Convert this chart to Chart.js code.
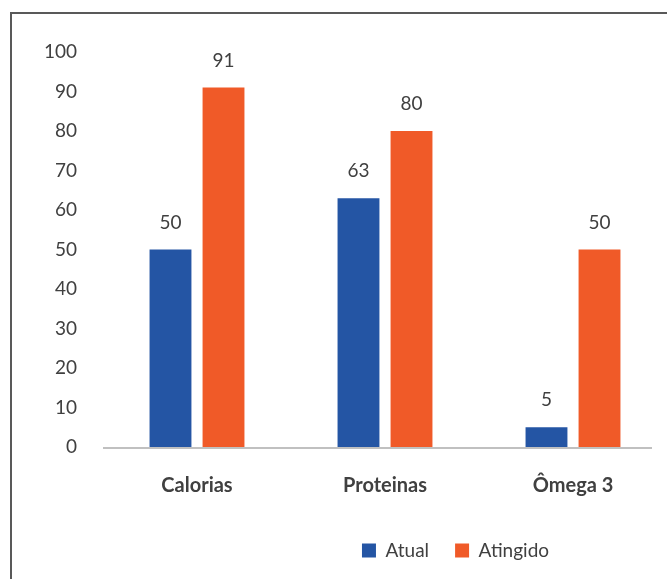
<!DOCTYPE html>
<html lang="pt">
<head>
<meta charset="UTF-8">
<title>Atual x Atingido</title>
<script src="https://cdn.jsdelivr.net/npm/chart.js"></script>
<style>
  body { margin: 0; overflow: hidden; background: #fff; }
  #moldura {
    position: absolute; left: 10px; top: 12px;
    width: 720px; height: 620px;
    border: 2px solid #595959;
  }
  #wrap { position: absolute; left: 0; top: 0; width: 667px; height: 579px; }
</style>
</head>
<body>
<div id="moldura"></div>
<div id="wrap"><canvas id="grafico" width="667" height="579"></canvas></div>

<script>
// dados do gráfico
const categorias = ['Calorias', 'Proteinas', 'Ômega 3'];
const atual = [50, 63, 5];
const atingido = [91, 80, 50];
const ticksY = [0, 10, 20, 30, 40, 50, 60, 70, 80, 90, 100];

const AZUL = '#2455a4';
const LARANJA = '#f05a28';
const TEXTO = '#404040';

// escreve o valor em cima de cada barra e a linha do eixo
const rotulos = {
  id: 'rotulos',
  beforeDatasetsDraw(chart) {
    const ctx = chart.ctx;
    const y0 = chart.scales.y.getPixelForValue(0);
    ctx.save();
    ctx.strokeStyle = '#c0c0c0';
    ctx.lineWidth = 2;
    ctx.beginPath();
    ctx.moveTo(chart.chartArea.left, y0 + 1);
    ctx.lineTo(chart.chartArea.right - 15, y0 + 1);
    ctx.stroke();
    ctx.restore();
  },
  afterDatasetsDraw(chart) {
    const ctx = chart.ctx;
    ctx.save();
    ctx.font = '19px Lato';
    ctx.fillStyle = TEXTO;
    ctx.textAlign = 'center';
    ctx.textBaseline = 'middle';
    chart.data.datasets.forEach((ds, i) => {
      chart.getDatasetMeta(i).data.forEach((bar, j) => {
        ctx.fillText(ds.data[j], bar.x, bar.y - 27);
      });
    });
    ctx.restore();
  }
};

// a legenda no original fica deslocada para a direita
const moveLegenda = {
  id: 'moveLegenda',
  afterLayout(chart) {
    chart.legend.left += 122;
    chart.legend.right += 122;
  }
};

const ctx = document.getElementById('grafico').getContext('2d');
new Chart(ctx, {
  type: 'bar',
  data: {
    labels: categorias,
    datasets: [
      { label: 'Atual', data: atual, backgroundColor: AZUL },
      { label: 'Atingido', data: atingido, backgroundColor: LARANJA }
    ]
  },
  options: {
    responsive: false,
    animation: false,
    categoryPercentage: 0.564,
    barPercentage: 0.79,
    layout: { padding: { top: 52, right: 0, bottom: 9, left: 0 } },
    plugins: {
      legend: {
        position: 'bottom',
        labels: {
          boxWidth: 14,
          boxHeight: 14,
          padding: 26,
          color: TEXTO,
          font: { family: 'Lato', size: 19 }
        }
      },
      tooltip: { enabled: false }
    },
    scales: {
      x: {
        grid: { display: false, drawTicks: false },
        border: { display: false },
        ticks: {
          padding: 27,
          color: TEXTO,
          font: { family: 'Lato', size: 20, weight: 'bold' }
        },
        afterFit(scale) { scale.height = 68; }
      },
      y: {
        min: 0,
        max: 100,
        grid: { display: false, drawTicks: false },
        border: { display: false },
        afterBuildTicks(scale) { scale.ticks = ticksY.map(v => ({ value: v })); },
        ticks: {
          padding: 26,
          color: TEXTO,
          font: { family: 'Lato', size: 19 }
        },
        afterFit(scale) { scale.width = 103; }
      }
    }
  },
  plugins: [rotulos, moveLegenda]
});
</script>
</body>
</html>
